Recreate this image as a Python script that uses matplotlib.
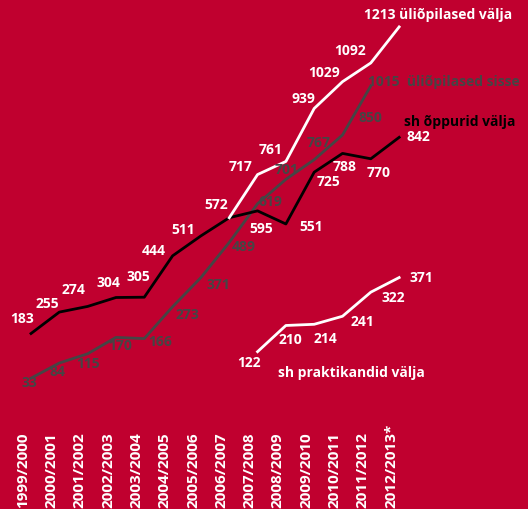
import matplotlib
matplotlib.use("Agg")
import matplotlib.pyplot as plt

years = ["1999/2000", "2000/2001", "2001/2002", "2002/2003", "2003/2004",
         "2004/2005", "2005/2006", "2006/2007", "2007/2008", "2008/2009",
         "2009/2010", "2010/2011", "2011/2012", "2012/2013*"]

# sh õppurid välja (all years)
oppurid = [183, 255, 274, 304, 305, 444, 511, 572, 595, 551, 725, 788, 770, 842]
# üliõpilased välja (from 2006/2007)
valja_start = 7
valja = [572, 717, 761, 939, 1029, 1092, 1213]
# üliõpilased sisse (1999/2000 .. 2011/2012)
sisse = [33, 84, 115, 170, 166, 273, 371, 489, 619, 701, 767, 850, 1015]
# sh praktikandid välja (from 2007/2008)
prakt_start = 8
praktikandid = [122, 210, 214, 241, 322, 371]

# label offsets in pixels (layout only)
off_opp = [(-9, 15), (-12, 8), (-14, 16), (-8, 15), (-6, 20), (-19, 5), (-18, 6),
           (-13, 13), (4, -18), (25, -3), (14, -10), (2, -14), (8, -14), (19, 0)]
off_val = [None, (-17, 8), (-15, 11), (-11, 9), (-18, 9), (-21, 12), None]
off_sis = [(-2, -5), (-2, -9), (0, -10), (4, -9), (16, -3), (15, -8), (17, -7),
           (15, -5), (13, 2), (1, 9), (4, 17), (28, 17), None]
off_pra = [(-9, -11), (5, -15), (11, -15), (20, -6), (22, -6), (22, 0)]

RED = "#c0002f"
GRAY = "#454545"
FONT = "Open Sans"

fig = plt.figure(figsize=(5.28, 5.09), dpi=100, facecolor=RED)
ax = fig.add_axes([0, 1 - 388 / 509, 1, 387 / 509])
ax.set_facecolor(RED)
ax.set_xlim(-1.095, 17.55)
ax.set_ylim(0, 1300)
ax.axis("off")

x_all = list(range(len(years)))
x_val = x_all[valja_start:valja_start + len(valja)]
x_sis = x_all[:len(sisse)]
x_pra = x_all[prakt_start:prakt_start + len(praktikandid)]

lw = 2.0
ax.plot(x_sis, sisse, color=GRAY, lw=lw, solid_joinstyle="round")
ax.plot(x_all, oppurid, color="black", lw=lw, solid_joinstyle="round")
ax.plot(x_val, valja, color="white", lw=lw, solid_joinstyle="round")
ax.plot(x_pra, praktikandid, color="white", lw=lw, solid_joinstyle="round")

fs = 10


def label(x, v, off, color):
    ax.annotate(str(v), xy=(x, v), xytext=off, textcoords="offset pixels",
                ha="center", va="center", color=color, fontsize=fs,
                fontweight="bold", family=FONT)


for x, v, o in zip(x_all, oppurid, off_opp):
    label(x, v, o, "white")
for x, v, o in zip(x_val, valja, off_val):
    if o:
        label(x, v, o, "white")
for x, v, o in zip(x_sis, sisse, off_sis):
    if o:
        label(x, v, o, GRAY)
for x, v, o in zip(x_pra, praktikandid, off_pra):
    label(x, v, o, "white")

# series end labels
ax.annotate(f"{valja[-1]} üliõpilased välja", xy=(x_val[-1], valja[-1]),
            xytext=(-35, 12), textcoords="offset pixels", ha="left", va="center",
            color="white", fontsize=fs, fontweight="bold", family=FONT)
ax.annotate(f"{sisse[-1]}  üliõpilased sisse", xy=(x_sis[-1], sisse[-1]),
            xytext=(-3, 4), textcoords="offset pixels", ha="left", va="center",
            color=GRAY, fontsize=fs, fontweight="bold", family=FONT)
ax.annotate("sh õppurid välja", xy=(x_all[-1], oppurid[-1]),
            xytext=(5, 15), textcoords="offset pixels", ha="left", va="center",
            color="black", fontsize=fs, fontweight="bold", family=FONT)
ax.annotate("sh praktikandid välja", xy=(x_pra[0], praktikandid[0]),
            xytext=(20, -21), textcoords="offset pixels", ha="left", va="center",
            color="white", fontsize=fs, fontweight="bold", family=FONT)

# year labels along the bottom
for x, yr in zip(x_all, years):
    ax.annotate(yr, xy=(x, 0.002), xycoords=("data", "figure fraction"),
                xytext=(-8, 0), textcoords="offset pixels", rotation=90,
                ha="center", va="bottom", color="white", fontsize=11,
                fontweight="bold", family=FONT, annotation_clip=False)

fig.savefig("out.png", dpi=100, facecolor=RED)
